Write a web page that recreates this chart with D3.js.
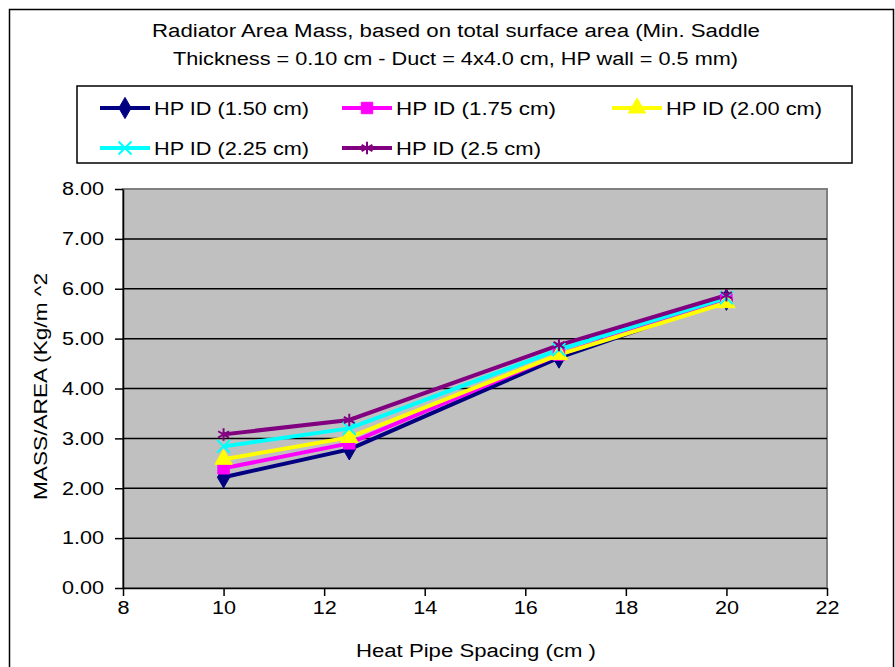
<!DOCTYPE html>
<html>
<head>
<meta charset="utf-8">
<title>Radiator Area Mass</title>
<script src="https://d3js.org/d3.v7.min.js"></script>
<style>
  body { margin: 0; background: #fff; }
  text { font-family: Arial, "Liberation Sans", sans-serif; fill: #000; }
</style>
</head>
<body>
<div id="chart"></div>
<script>
var spacing = [10, 12.5, 16.67, 20];
var seriesNames = ["HP ID (1.50 cm)", "HP ID (1.75 cm)", "HP ID (2.00 cm)", "HP ID (2.25 cm)", "HP ID (2.5 cm)"];
var id150 = [2.22, 2.78, 4.62, 5.78];
var id175 = [2.40, 2.90, 4.68, 5.78];
var id200 = [2.58, 3.02, 4.68, 5.72];
var id225 = [2.84, 3.20, 4.78, 5.82];
var id250 = [3.08, 3.37, 4.87, 5.87];
var xTicks = [8, 10, 12, 14, 16, 18, 20, 22];
var yTicks = [0, 1, 2, 3, 4, 5, 6, 7, 8];

var colors = ["#000080", "#FF00FF", "#FFFF00", "#00FFFF", "#800080"];
var symbols = [d3.symbolDiamond, d3.symbolSquare, d3.symbolTriangle, d3.symbolX, d3.symbolAsterisk];
var allSeries = [id150, id175, id200, id225, id250];

var width = 895, height = 667;
var svg = d3.select("#chart").append("svg")
    .attr("width", width).attr("height", height);

// outer chart frame
svg.append("rect")
    .attr("x", 9.5).attr("y", 9.5)
    .attr("width", 884).attr("height", 680)
    .attr("fill", "#fff").attr("stroke", "#000").attr("stroke-width", 1.5);

// title
svg.append("text").attr("x", 152).attr("y", 37)
    .attr("textLength", 608).attr("lengthAdjust", "spacingAndGlyphs")
    .style("font-size", "18px")
    .text("Radiator Area Mass, based on total surface area  (Min. Saddle");
svg.append("text").attr("x", 173).attr("y", 65)
    .attr("textLength", 565).attr("lengthAdjust", "spacingAndGlyphs")
    .style("font-size", "18px")
    .text("Thickness = 0.10 cm - Duct = 4x4.0 cm, HP  wall = 0.5 mm)");

var pLeft = 123, pRight = 827, pTop = 189, pBottom = 588;
var x = d3.scaleLinear().domain([8, 22]).range([pLeft, pRight]);
var y = d3.scaleLinear().domain([0, 8]).range([pBottom, pTop]);

svg.append("rect")
    .attr("x", pLeft).attr("y", pTop)
    .attr("width", pRight - pLeft).attr("height", pBottom - pTop)
    .attr("fill", "#C0C0C0").attr("stroke", "#808080").attr("stroke-width", 2);

// gridlines
svg.append("g").selectAll("line")
    .data(yTicks.filter(function(d) { return d > 0 && d < 8; }))
    .enter().append("line")
    .attr("x1", pLeft).attr("x2", pRight)
    .attr("y1", function(d) { return y(d); }).attr("y2", function(d) { return y(d); })
    .attr("stroke", "#000").attr("stroke-width", 1.5);

// stretch tick labels a bit, the source font is wide
function widen(sel) {
    sel.each(function() {
        var w = this.getComputedTextLength();
        d3.select(this).attr("textLength", w * 1.2).attr("lengthAdjust", "spacingAndGlyphs");
    });
}

// axes
var yAxis = d3.axisLeft(y).tickValues(yTicks).tickSize(8).tickSizeOuter(0)
    .tickFormat(d3.format(".2f"));
var gy = svg.append("g").attr("transform", "translate(" + pLeft + ",0)").call(yAxis);
gy.selectAll("text").style("font-size", "18px").attr("x", -19)
    .attr("font-family", "Arial, 'Liberation Sans', sans-serif")
    .call(widen);

var xAxis = d3.axisBottom(x).tickValues(xTicks).tickSize(8).tickSizeOuter(0);
var gx = svg.append("g").attr("transform", "translate(0," + pBottom + ")").call(xAxis);
gx.selectAll("text").style("font-size", "18px").attr("y", 13)
    .attr("font-family", "Arial, 'Liberation Sans', sans-serif")
    .call(widen);
svg.selectAll(".domain").attr("stroke", "#000").attr("stroke-width", 1.5);
svg.selectAll(".tick line").attr("stroke", "#000").attr("stroke-width", 1.5);

svg.append("text").attr("x", 356).attr("y", 657)
    .attr("textLength", 240).attr("lengthAdjust", "spacingAndGlyphs")
    .style("font-size", "18px").text("Heat Pipe Spacing (cm )");
svg.append("text")
    .attr("transform", "translate(47,500) rotate(-90)")
    .attr("textLength", 227).attr("lengthAdjust", "spacingAndGlyphs")
    .style("font-size", "18px").text("MASS/AREA (Kg/m ^2");

// series
var line = d3.line()
    .x(function(d, i) { return x(spacing[i]); })
    .y(function(d) { return y(d); });

allSeries.forEach(function(vals, k) {
    svg.append("path").datum(vals)
        .attr("d", line)
        .attr("fill", "none")
        .attr("stroke", colors[k])
        .attr("stroke-width", 4);
});

allSeries.forEach(function(vals, k) {
    var open = k >= 3;
    svg.append("g").selectAll("path")
        .data(vals).enter().append("path")
        .attr("transform", function(d, i) { return "translate(" + x(spacing[i]) + "," + y(d) + ")"; })
        .attr("d", d3.symbol().type(symbols[k]).size(open ? 110 : 130))
        .attr("fill", open ? "none" : colors[k])
        .attr("stroke", colors[k])
        .attr("stroke-width", open ? 2 : 1);
});

// legend
svg.append("rect")
    .attr("x", 77).attr("y", 86).attr("width", 775).attr("height", 77)
    .attr("fill", "#fff").attr("stroke", "#000").attr("stroke-width", 1.5);

var legPos = [[100, 108], [342, 108], [612, 108], [100, 148], [342, 148]];
var legWidth = [155, 160, 156, 155, 145];
seriesNames.forEach(function(name, k) {
    var g = svg.append("g").attr("transform", "translate(" + legPos[k][0] + "," + legPos[k][1] + ")");
    var open = k >= 3;
    g.append("line").attr("x1", 0).attr("x2", 50).attr("y1", 0).attr("y2", 0)
        .attr("stroke", colors[k]).attr("stroke-width", 4);
    g.append("path").attr("transform", "translate(25,0)")
        .attr("d", d3.symbol().type(symbols[k]).size(open ? 110 : 130))
        .attr("fill", open ? "none" : colors[k])
        .attr("stroke", colors[k]).attr("stroke-width", open ? 2 : 1);
    g.append("text").attr("x", 54).attr("y", 7)
        .attr("textLength", legWidth[k]).attr("lengthAdjust", "spacingAndGlyphs")
        .style("font-size", "18px").text(name);
});
</script>
</body>
</html>
